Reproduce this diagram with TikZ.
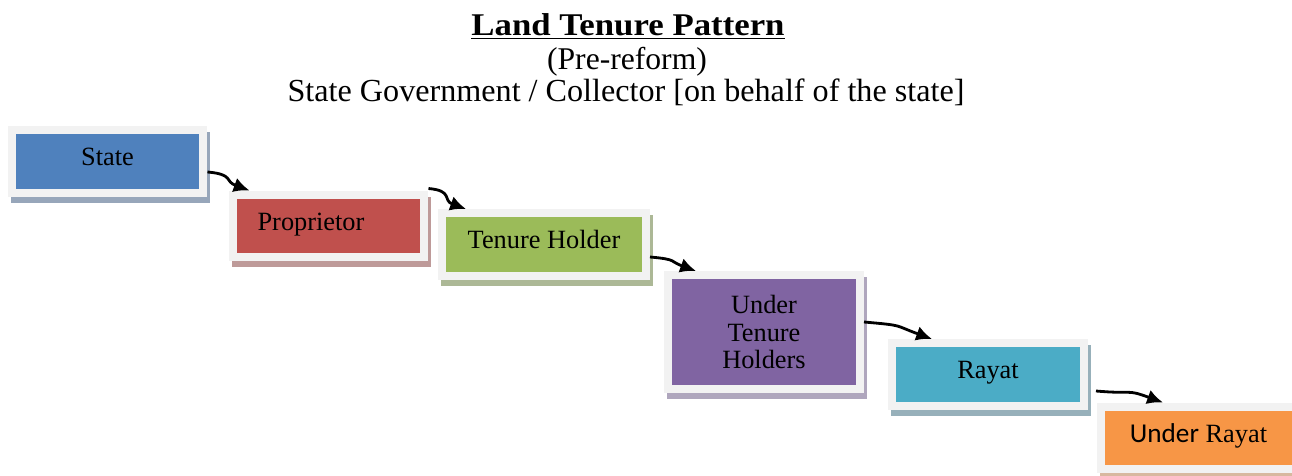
\documentclass[tikz,border=0pt]{standalone}
\usepackage{fontspec}
\setmainfont{Liberation Serif}
\newfontfamily\headfont[FakeStretch=1.1]{Liberation Serif}
\newfontfamily\calibfont{Carlito}
\usetikzlibrary{arrows.meta,shadows}

\definecolor{framegray}{HTML}{F2F2F2}
\definecolor{stateblue}{HTML}{4F81BD}
\definecolor{stateshade}{HTML}{97A6BA}
\definecolor{propred}{HTML}{C0504D}
\definecolor{propshade}{HTML}{BE9A99}
\definecolor{tenuregreen}{HTML}{9BBB59}
\definecolor{tenureshade}{HTML}{ACB896}
\definecolor{underpurple}{HTML}{8064A2}
\definecolor{undershade}{HTML}{AFA6BD}
\definecolor{rayataqua}{HTML}{4BACC6}
\definecolor{rayatshade}{HTML}{97B0BA}
\definecolor{urayatorange}{HTML}{F79646}
\definecolor{urayatshade}{HTML}{D8B89F}

\tikzset{>=Latex}
\tikzset{tiershadow/.style={drop shadow={shadow xshift=0.06cm, shadow yshift=-0.12cm, opacity=1, fill=#1, draw=#1}}}
\tikzstyle{tier} = [draw=framegray, line width=0.16cm, minimum width=3.84cm, minimum height=1.26cm, inner sep=0pt, font=\fontsize{15}{15.6}\selectfont]
\tikzstyle{oneline} = [text height=9.9pt, text depth=5pt]
\tikzstyle{arrow} = [line width=1.6pt,-{Latex[length=9pt,width=8.5pt]}, out=-5, in=160, looseness=1.5]

\begin{document}
\begin{tikzpicture}[x=0.02cm, y=-0.02cm]

\useasboundingbox (0,0) rectangle (1292,476);

% heading
\node[anchor=base, font=\headfont\bfseries\fontsize{18}{20}\selectfont] (title) at (628,36) {\underline{Land Tenure Pattern}};
\node[anchor=base, font=\fontsize{18}{20}\selectfont] (phase) at (627,70) {(Pre-reform)};
\node[anchor=base, font=\fontsize{18.3}{20}\selectfont] (govt) at (626,102) {State Government / Collector [on behalf of the state]};

% tiers, top to bottom
\node[tier, oneline, fill=stateblue, tiershadow=stateshade] (state) at (107.5,161.5) {State};
\node[tier, oneline, fill=propred, tiershadow=propshade] (prop) at (328.5,226) {Proprietor\hspace*{0.7cm}};
\node[tier, oneline, fill=tenuregreen, tiershadow=tenureshade, minimum width=4.08cm] (tenure) at (544,244.5) {Tenure Holder};
\node[tier, fill=underpurple, tiershadow=undershade, minimum height=2.28cm, align=center] (uth) at (764,332) {Under\\Tenure\\Holders};
\node[tier, oneline, fill=rayataqua, tiershadow=rayatshade] (rayat) at (988,374.5) {Rayat};
\node[tier, oneline, fill=urayatorange, tiershadow=urayatshade, minimum width=3.9cm] (urayat) at (1198.5,438) {{\calibfont\fontsize{15.5}{16}\selectfont Under} Rayat};

\draw[arrow] ([yshift=-0.21cm]state.east) to ([xshift=0.42cm]prop.north west);
\draw[arrow] ([yshift=0.04cm]prop.north east) to ([xshift=0.56cm]tenure.north west);
\draw[arrow] ([yshift=-0.25cm]tenure.east) to ([xshift=0.64cm]uth.north west);
\draw[arrow] ([yshift=0.2cm]uth.east) to ([xshift=0.88cm]rayat.north west);
\draw[arrow] ([xshift=0.16cm,yshift=-0.33cm]rayat.east) to ([xshift=1.32cm]urayat.north west);

\end{tikzpicture}
\end{document}
